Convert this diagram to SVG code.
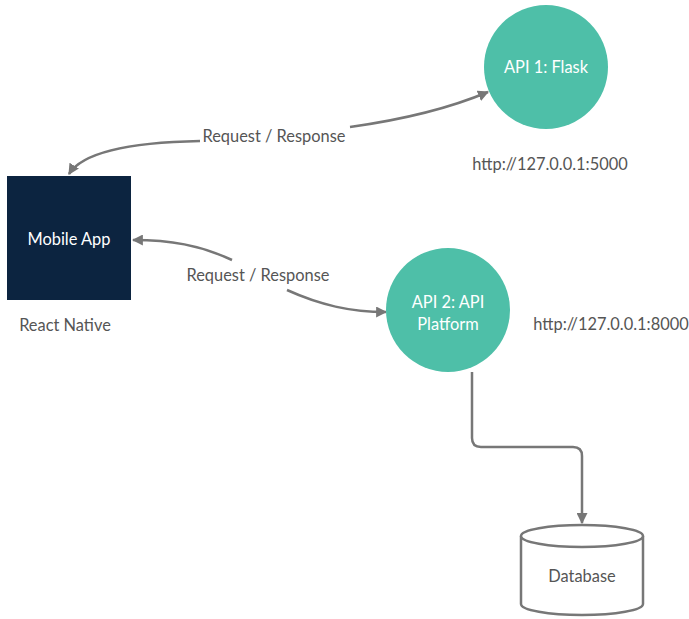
<svg xmlns="http://www.w3.org/2000/svg" width="689" height="619" viewBox="0 0 689 619">
<style>
text{font-family:Lato,"Open Sans","Liberation Sans",sans-serif;font-size:16.4px}
.lbl{fill:#555}
.wt{fill:#fff}
.edge{fill:none;stroke:#777;stroke-width:2.5}
.api{fill:#4ebfa8}
</style>
<defs>
<marker id="arr" viewBox="0 0 10 10" refX="9" refY="5" markerWidth="11" markerHeight="11" markerUnits="userSpaceOnUse" orient="auto">
<path d="M0 0L10 5L0 10z" fill="#777"/>
</marker>
</defs>
<rect width="689" height="619" fill="#fff"/>
<g id="connectors">
<path class="edge" d="M200 141C150 142 85 148 69 174" marker-end="url(#arr)"/>
<path class="edge" d="M350 127C400 120 450 108 488 92" marker-end="url(#arr)"/>
<path class="edge" d="M232 260C200 245 170 240 133 240" marker-end="url(#arr)"/>
<path class="edge" d="M287 290C320 305 350 312 386 312" marker-end="url(#arr)"/>
<path class="edge" d="M472 372V438Q472 447 481 447H573Q582 447 582 456V523" marker-end="url(#arr)"/>
<text class="lbl" x="274" y="142" text-anchor="middle">Request / Response</text>
<text class="lbl" x="258" y="281" text-anchor="middle">Request / Response</text>
</g>
<g id="mobile-app">
<rect x="7" y="176" width="124" height="124" fill="#0c2440"/>
<text class="wt" x="69" y="245" text-anchor="middle">Mobile App</text>
<text class="lbl" x="65" y="331" text-anchor="middle">React Native</text>
</g>
<g id="api1">
<circle class="api" cx="546" cy="67" r="62"/>
<text class="wt" x="546" y="73" text-anchor="middle">API 1: Flask</text>
<text class="lbl" x="550" y="170" text-anchor="middle">http://127.0.0.1:5000</text>
</g>
<g id="api2">
<circle class="api" cx="448" cy="310" r="62"/>
<text class="wt" x="448" y="308" text-anchor="middle">API 2: API</text>
<text class="wt" x="448" y="330" text-anchor="middle">Platform</text>
<text class="lbl" x="611" y="330" text-anchor="middle">http://127.0.0.1:8000</text>
</g>
<g id="database">
<path d="M521 536V604A61 11 0 0 0 643 604V536" fill="#fff" stroke="#777" stroke-width="2.5"/>
<ellipse cx="582" cy="536" rx="61" ry="11" fill="#fff" stroke="#777" stroke-width="2.5"/>
<text class="lbl" x="582" y="582" text-anchor="middle">Database</text>
</g>
</svg>
